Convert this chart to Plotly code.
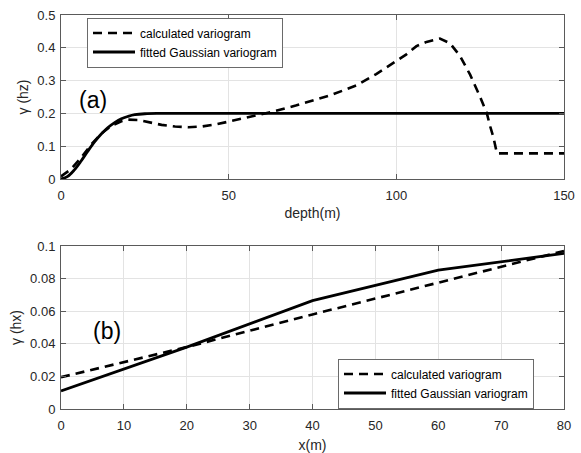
import plotly.graph_objects as go

# ---- panel (a) data ----
calc_a_x = [0, 3, 6, 9, 12, 15, 18, 20, 23, 26, 30, 34, 38, 42, 46, 50, 56, 63, 70, 80,
            88, 94, 100, 103, 106, 109, 113, 116, 119, 122, 125, 127, 128, 129, 130, 150]
calc_a_y = [0.008, 0.03, 0.065, 0.105, 0.138, 0.162, 0.176, 0.181, 0.18, 0.174, 0.165, 0.16,
            0.158, 0.16, 0.166, 0.175, 0.188, 0.205, 0.224, 0.254, 0.285, 0.32, 0.36, 0.38,
            0.405, 0.418, 0.428, 0.414, 0.375, 0.318, 0.25, 0.2, 0.16, 0.125, 0.078, 0.078]
fit_a_x = [0, 2, 4, 6, 8, 10, 12, 14, 16, 18, 20, 22, 25, 30, 150]
fit_a_y = [0, 0.008, 0.028, 0.055, 0.085, 0.113, 0.137, 0.157, 0.172, 0.184, 0.191, 0.196,
           0.199, 0.2, 0.2]

# ---- panel (b) data ----
calc_b_x = [0, 20, 40, 60, 80]
calc_b_y = [0.0195, 0.038, 0.058, 0.0776, 0.097]
fit_b_x = [0, 20, 40, 60, 80]
fit_b_y = [0.0111, 0.038, 0.0665, 0.0852, 0.0955]

series_names = ["calculated variogram", "fitted Gaussian variogram"]
x_titles = ["depth(m)", "x(m)"]
y_titles = ["\u03b3 (hz)", "\u03b3 (hx)"]
panel_labels = ["(a)", "(b)"]

W, H = 581, 453
FONT = "Liberation Sans, Arial, sans-serif"
TXT = "#262626"
AX = "#5a5a5a"
GRID = "#e3e3e3"
DASH = "9px,6px"

fig = go.Figure()
fig.add_trace(go.Scatter(x=calc_a_x, y=calc_a_y, mode="lines", name=series_names[0],
                         line=dict(color="black", width=2.6, dash=DASH),
                         xaxis="x", yaxis="y", legend="legend"))
fig.add_trace(go.Scatter(x=fit_a_x, y=fit_a_y, mode="lines", name=series_names[1],
                         line=dict(color="black", width=2.8, shape="spline"),
                         xaxis="x", yaxis="y", legend="legend"))
fig.add_trace(go.Scatter(x=calc_b_x, y=calc_b_y, mode="lines", name=series_names[0],
                         line=dict(color="black", width=2.6, dash=DASH),
                         xaxis="x2", yaxis="y2", legend="legend2"))
fig.add_trace(go.Scatter(x=fit_b_x, y=fit_b_y, mode="lines", name=series_names[1],
                         line=dict(color="black", width=2.8),
                         xaxis="x2", yaxis="y2", legend="legend2"))

xdom = [61 / W, 564 / W]
ydom_a = [1 - 179 / H, 1 - 15 / H]
ydom_b = [1 - 409 / H, 1 - 246 / H]

def axis(**kw):
    base = dict(showline=True, linecolor=AX, linewidth=1, mirror="allticks",
                ticks="inside", ticklen=5, tickcolor=AX, showgrid=True,
                gridcolor=GRID, gridwidth=1, zeroline=False, automargin=False,
                tickfont=dict(family=FONT, size=13, color=TXT))
    base.update(kw)
    return base

title_font = dict(family=FONT, size=14, color=TXT)

fig.update_layout(
    width=W, height=H, margin=dict(l=0, r=0, t=0, b=0, pad=0), autosize=False,
    paper_bgcolor="white", plot_bgcolor="white",
    font=dict(family=FONT, color=TXT),
    xaxis=axis(domain=xdom, anchor="y", range=[0, 150], tickvals=[0, 50, 100, 150],
               ticklabelstandoff=4,
               title=dict(text=x_titles[0], font=title_font, standoff=6)),
    yaxis=axis(domain=ydom_a, anchor="x", range=[0, 0.5], dtick=0.1, tick0=0,
               ticklabelstandoff=2,
               title=dict(text=y_titles[0], font=title_font, standoff=5)),
    xaxis2=axis(domain=xdom, anchor="y2", range=[0, 80], dtick=10, tick0=0,
                ticklabelstandoff=4,
                title=dict(text=x_titles[1], font=title_font, standoff=11)),
    yaxis2=axis(domain=ydom_b, anchor="x2", range=[0, 0.1], dtick=0.02, tick0=0,
                ticklabelstandoff=2,
                title=dict(text=y_titles[1], font=title_font, standoff=5)),
    legend=dict(x=87 / W, y=1 - 42.5 / H, xanchor="left", yanchor="middle",
                bgcolor="white", bordercolor="#6a6a6a", borderwidth=1,
                font=dict(family=FONT, size=12, color="black"),
                itemwidth=42, tracegroupgap=0),
    legend2=dict(x=338 / W, y=1 - 383.5 / H, xanchor="left", yanchor="middle",
                 bgcolor="white", bordercolor="#6a6a6a", borderwidth=1,
                 font=dict(family=FONT, size=12, color="black"),
                 itemwidth=42, tracegroupgap=0),
    annotations=[
        dict(x=9.5, y=0.24, xref="x", yref="y", text=panel_labels[0], showarrow=False,
             font=dict(family=FONT, size=23, color="black")),
        dict(x=7.3, y=0.048, xref="x2", yref="y2", text=panel_labels[1], showarrow=False,
             font=dict(family=FONT, size=23, color="black")),
    ],
)

fig.write_html("out.html")
